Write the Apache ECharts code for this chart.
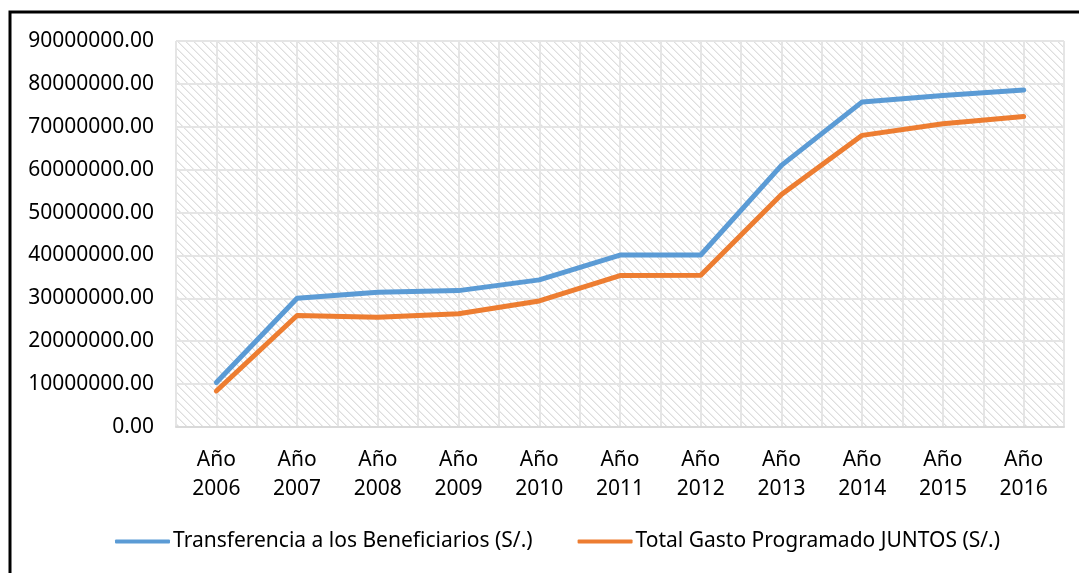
<!DOCTYPE html>
<html>
<head>
<meta charset="utf-8">
<script src="https://cdn.jsdelivr.net/npm/echarts@6/dist/echarts.min.js"></script>
<style>
html,body{margin:0;padding:0;background:#fff;}
#c{width:1079px;height:573px;}
</style>
</head>
<body>
<div id="c"></div>
<script>
const categories = ['Año\n2006','Año\n2007','Año\n2008','Año\n2009','Año\n2010','Año\n2011','Año\n2012','Año\n2013','Año\n2014','Año\n2015','Año\n2016'];
const transferencia = [10400000, 30000000, 31400000, 31800000, 34300000, 40100000, 40100000, 61000000, 75800000, 77300000, 78600000];
const gastoTotal = [8400000, 26000000, 25600000, 26400000, 29400000, 35300000, 35400000, 54200000, 68000000, 70700000, 72400000];
const seriesNames = ['Transferencia a los Beneficiarios (S/.)', 'Total Gasto Programado JUNTOS (S/.)'];
const seriesColors = ['#5b9bd5', '#ed7d31'];

// hatch pattern
const pc = document.createElement('canvas');
pc.width = 8; pc.height = 8;
const px = pc.getContext('2d');
px.fillStyle = '#ffffff'; px.fillRect(0,0,8,8);
for (let y = 0; y < 8; y++) {
  for (let x = 0; x < 8; x++) {
    const d = (x - y + 16) % 8;
    if (d === 0) { px.fillStyle = '#dedede'; px.fillRect(x, y, 1, 1); }
    else if (d === 1) { px.fillStyle = '#eeeeee'; px.fillRect(x, y, 1, 1); }
  }
}

const FONT = 'Noto Sans';
const chart = echarts.init(document.getElementById('c'), null, {renderer: 'canvas'});
chart.setOption({
  animation: false,
  backgroundColor: '#ffffff',
  textStyle: {fontFamily: FONT},
  graphic: [{
    type: 'rect', z: 100,
    shape: {x: 10, y: 12, width: 1200, height: 700},
    style: {fill: 'none', stroke: '#000', lineWidth: 3}
  }],
  grid: {
    left: 176, right: 15, top: 41, bottom: 146,
    show: true, borderWidth: 0,
    backgroundColor: {image: pc, repeat: 'repeat'}
  },
  legend: {
    top: 526, left: 110,
    itemWidth: 55, itemHeight: 4, itemGap: 45,
    icon: 'roundRect',
    textStyle: {fontFamily: FONT, fontSize: 21, color: '#000', padding: [0, 0, 0, -2]},
    data: seriesNames.map((n, i) => ({name: n, itemStyle: {color: seriesColors[i]}}))
  },
  xAxis: [{
    type: 'category', data: categories, boundaryGap: true,
    axisLine: {show: true, lineStyle: {color: '#d9d9d9', width: 2}},
    axisTick: {show: false},
    splitLine: {show: false},
    axisLabel: {color: '#000', fontFamily: FONT, fontSize: 21, lineHeight: 29, margin: 19, interval: 0}
  }, {
    type: 'value', min: 0, max: 22, interval: 1, position: 'bottom',
    axisLine: {show: false}, axisTick: {show: false}, axisLabel: {show: false},
    splitLine: {show: true, lineStyle: {color: '#e5e5e5', width: 2}}
  }],
  yAxis: {
    type: 'value', min: 0, max: 90000000, interval: 10000000,
    axisLine: {show: false}, axisTick: {show: false},
    splitLine: {show: true, lineStyle: {color: '#e5e5e5', width: 2}},
    axisLabel: {color: '#000', fontFamily: FONT, fontSize: 21, margin: 22,
      formatter: v => v.toFixed(2)}
  },
  series: [{
    name: seriesNames[0], type: 'line', data: transferencia, xAxisIndex: 0,
    symbol: 'none', lineStyle: {color: seriesColors[0], width: 5, cap: 'round', join: 'round'},
    itemStyle: {color: seriesColors[0]}
  }, {
    name: seriesNames[1], type: 'line', data: gastoTotal, xAxisIndex: 0,
    symbol: 'none', lineStyle: {color: seriesColors[1], width: 5, cap: 'round', join: 'round'},
    itemStyle: {color: seriesColors[1]}
  }]
});
</script>
</body>
</html>
